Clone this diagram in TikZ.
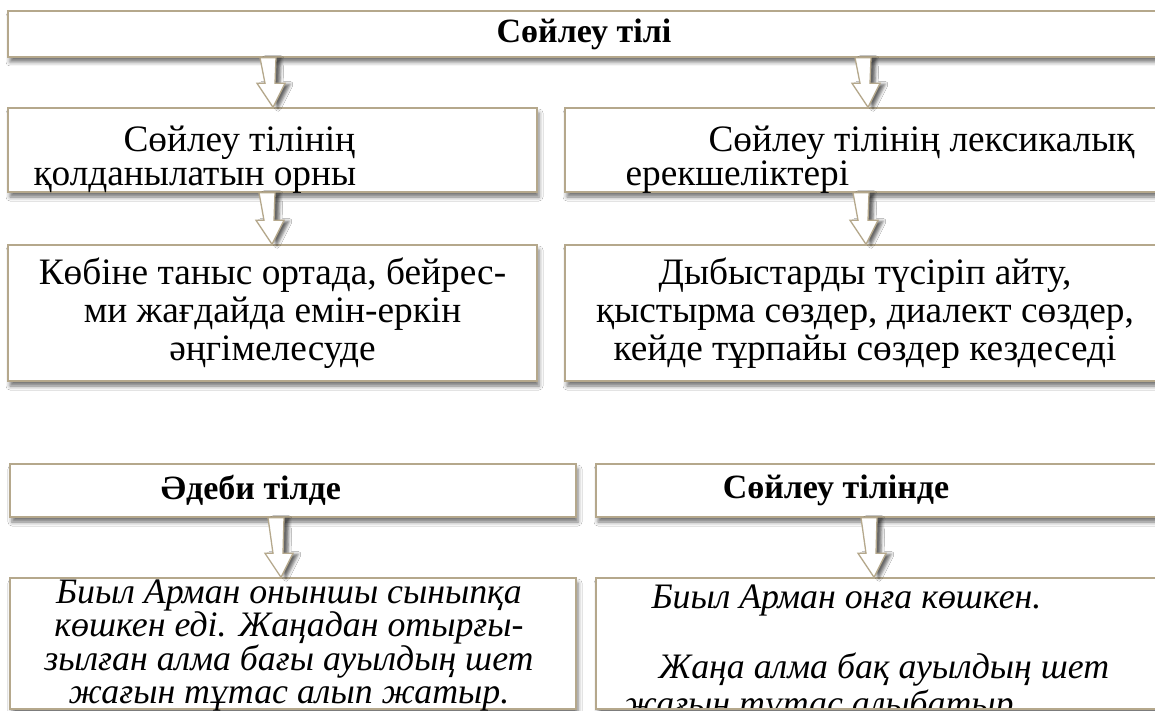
\documentclass[tikz,border=0pt]{standalone}
\usepackage{fontspec}
\setmainfont{Liberation Serif}
\usetikzlibrary{calc,shadows.blur}
\definecolor{boxline}{RGB}{181,168,140}

\newcommand{\flowarrow}[3]{%
  \coordinate (A_t) at (#3,0 |- #1.south);
  \coordinate (A_h) at (#3,0 |- #2.north);
  \draw[flowline] ($(A_t)+(-13,0)$) -- ($(A_h)+(-8,-24)$) -- ($(A_h)+(-16,-24)$) -- (A_h)
    -- ($(A_h)+(12,-24)$) -- ($(A_h)+(2,-24)$) -- ($(A_t)+(3,0)$) -- cycle;
}

\begin{document}
\begin{tikzpicture}[x=1pt,y=-1pt]
  \tikzstyle{box}=[rectangle,draw=boxline,line width=1.4pt,fill=white,inner sep=0pt,
    blur shadow={shadow xshift=2pt,shadow yshift=-5pt,shadow blur radius=4pt,shadow opacity=55}]
  \tikzstyle{flowline}=[draw=boxline,line width=1.3pt,fill=white,line join=miter,
    blur shadow={shadow xshift=5pt,shadow yshift=-1pt,shadow blur radius=3pt,shadow opacity=60}]
  \tikzstyle{head}=[font=\fontsize{34}{38}\selectfont\bfseries]
  \tikzstyle{body}=[font=\fontsize{37.3}{37.8}\selectfont,align=center]
  \tikzstyle{example}=[font=\fontsize{35.8}{32.5}\selectfont\itshape,align=center]

  \useasboundingbox (0,0) rectangle (1155,711);
  \fill[white] (0,0) rectangle (1155,711);

  \node[box,head,minimum width=1152pt,minimum height=46pt] (T_0) at (584,34) {Сөйлеу тілі};

  \node[box,minimum width=529pt,minimum height=84pt] (L_1) at (272.5,150) {};
  \node[box,minimum width=600pt,minimum height=84pt] (R_1) at (865,150) {};
  \node[body,anchor=base west] (L_1a) at (120,152) {Сөйлеу тілінің};
  \node[body,anchor=base west] (L_1b) at (30,186) {қолданылатын орны};
  \node[body,anchor=base west] (R_1a) at (705,152) {Сөйлеу тілінің лексикалық};
  \node[body,anchor=base west] (R_1b) at (622,186) {ерекшеліктері};

  \node[box,body,minimum width=529pt,minimum height=136pt] (L_2) at (272.5,313)
    {Көбіне таныс ортада, бейрес-\\ми жағдайда емін-еркін\\әңгімелесуде};
  \node[box,body,minimum width=600pt,minimum height=136pt] (R_2) at (865,313)
    {Дыбыстарды түсіріп айту,\\қыстырма сөздер, диалект сөздер,\\кейде тұрпайы сөздер кездеседі};

  \node[box,minimum width=566pt,minimum height=53pt] (L_3) at (293,490.5) {};
  \node[box,minimum width=570pt,minimum height=53pt] (R_3) at (881,490.5) {};
  \node[head] (L_3a) at (251,490.5) {Әдеби тілде};
  \node[head] (R_3a) at (836,490.5) {Сөйлеу тілінде};

  \node[box,minimum width=566pt,minimum height=131pt] (L_4) at (293,643.5) {};
  \node[box,minimum width=570pt,minimum height=131pt] (R_4) at (881,643.5) {};
  \node[example] (L_4a) at (289,645.5)
    {Биыл Арман оныншы сыныпқа\\көшкен еді. Жаңадан отырғы-\\зылған алма бағы ауылдың шет\\жағын тұтас алып жатыр.};
  \node[example,anchor=base west] (R_4a) at (648,608) {Биыл Арман онға көшкен.};
  \node[example,anchor=base west] (R_4b) at (655,678) {Жаңа алма бақ ауылдың шет};
  \begin{scope}
    \clip (597,579) rectangle (1160,707.5);
    \node[example,anchor=base west] (R_4c) at (620,715) {жағын тұтас алыбатыр};
  \end{scope}

  \flowarrow{T_0}{L_1}{273}
  \flowarrow{T_0}{R_1}{868}
  \flowarrow{L_1}{L_2}{272}
  \flowarrow{R_1}{R_2}{866}
  \flowarrow{L_3}{L_4}{281}
  \flowarrow{R_3}{R_4}{874}
\end{tikzpicture}
\end{document}
